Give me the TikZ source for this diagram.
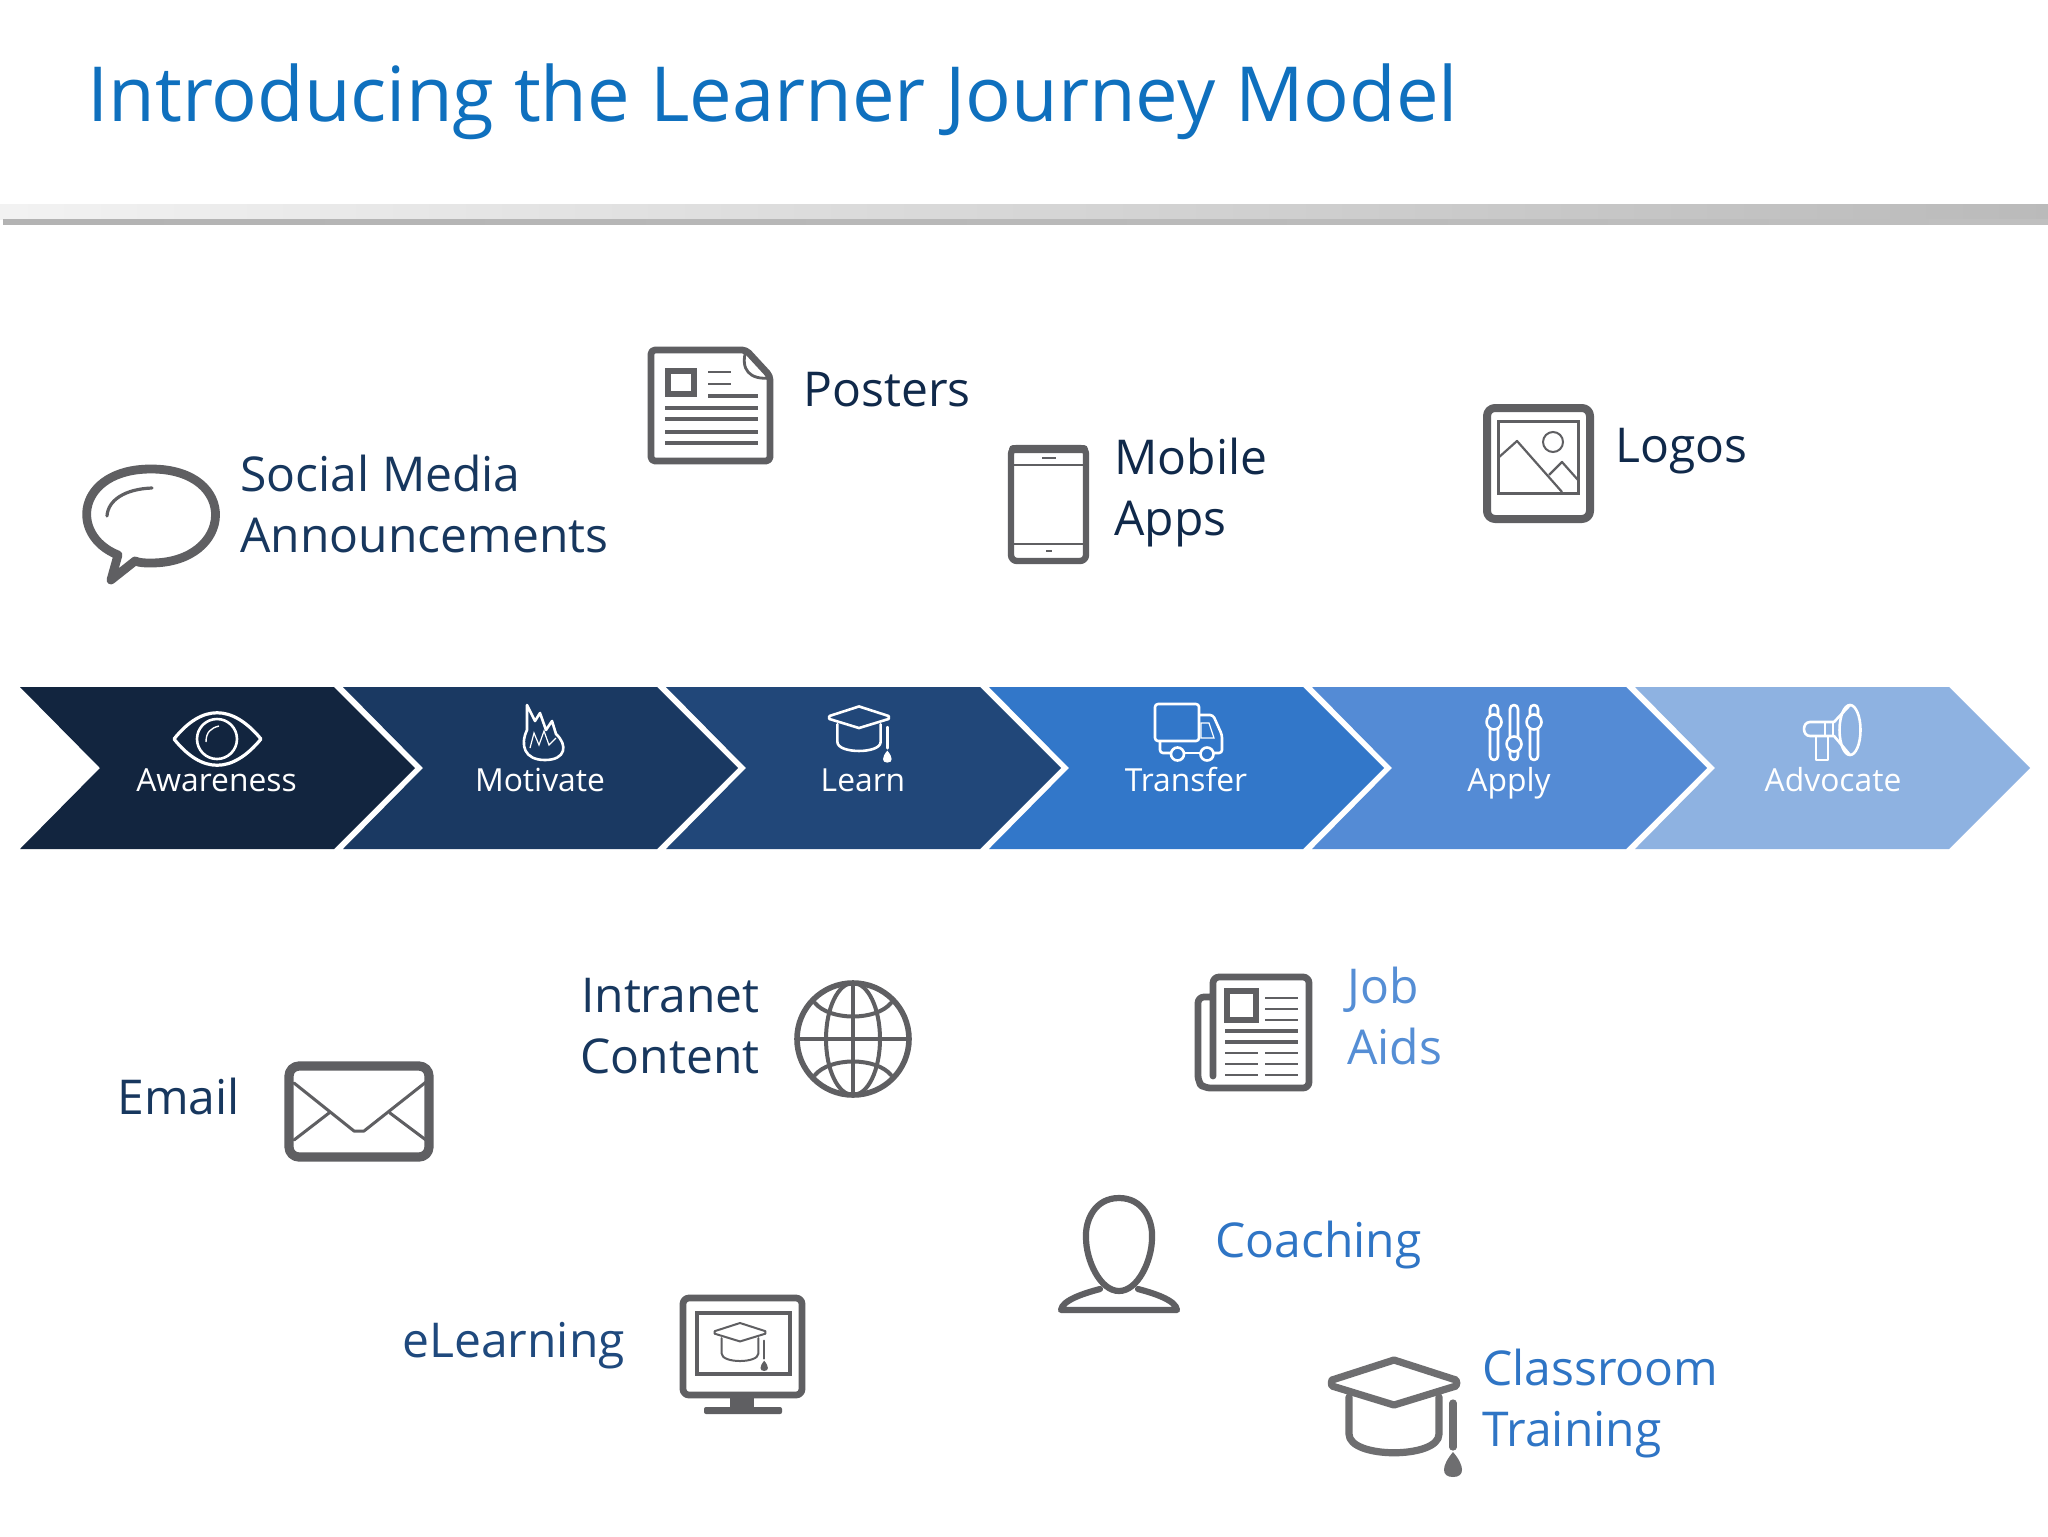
\documentclass[tikz,border=0pt]{standalone}
\usepackage{fontspec}
\setmainfont{Open Sans}
\usetikzlibrary{positioning}
\definecolor{titleblue}{HTML}{0F70BE}
\definecolor{inkdark}{HTML}{10294A}
\definecolor{inknavy}{HTML}{17375E}
\definecolor{inkmid}{HTML}{1F497D}
\definecolor{inkjob}{HTML}{558ED5}
\definecolor{inkcoach}{HTML}{2F75C5}
\definecolor{icongray}{HTML}{5F5F62}
\definecolor{capgray}{HTML}{6E6E70}
\definecolor{chevA}{HTML}{12253F}
\definecolor{chevB}{HTML}{1A3962}
\definecolor{chevC}{HTML}{214779}
\definecolor{chevD}{HTML}{3277C9}
\definecolor{chevE}{HTML}{548BD5}
\definecolor{chevF}{HTML}{8EB2E1}
\tikzset{
  bodytext/.style={font=\fontsize{24}{30.5}\selectfont,inner sep=0pt,align=left},
  steplabel/.style={font=\fontsize{15.9}{20}\selectfont,text=white,inner sep=0pt,anchor=base},
  iconline/.style={draw=icongray,line width=#1,line join=round,line cap=round},
  stepicon/.style={draw=white,line width=1.3pt,line join=round}
}
% cap: x, y, scale, colour, line width
\newcommand\capicon[5]{
\begin{scope}[shift={(#1,#2)},scale=#3,draw=#4,line width=#5,line join=round,line cap=round]
\draw (-62,-2) -- (0,-22) -- (62,-2) to[bend left=25] (62,4) -- (0,23) -- (-62,4) to[bend left=25] (-62,-2);
\draw (-45,15) -- (-45,52) .. controls (-45,77) and (45,77) .. (45,52) -- (45,15);
\draw (59,21) -- (59,65);
\fill[#4] (59,70) .. controls (47,84) and (47,95) .. (59,95) .. controls (71,95) and (71,84) .. (59,70) -- cycle;
\end{scope}
}
\begin{document}
\begin{tikzpicture}[x=0.5pt,y=-0.5pt]
\useasboundingbox (0,0) rectangle (2048,1536);
\fill[white] (0,0) rectangle (2048,1536);
% title and rule
\node[font=\fontsize{38}{46}\selectfont,text=titleblue,inner sep=0pt,anchor=base west] (title) at (87,121) {Introducing the Learner Journey Model};
\shade[left color=black!5,right color=black!27] (0,204) rectangle (2048,219);
\shade[left color=black!30,right color=black!25] (3,219) rectangle (2048,224);
% chevrons
\foreach \i/\c/\lab/\cx in {0/chevA/Awareness/216.5,1/chevB/Motivate/540,2/chevC/Learn/863,3/chevD/Transfer/1186,4/chevE/Apply/1509,5/chevF/Advocate/1833}{
\fill[\c] ({20+323*\i},687) -- ({334+323*\i},687) -- ({415+323*\i},768) -- ({334+323*\i},849) -- ({20+323*\i},849) -- ({100+323*\i},768) -- cycle;
\node[steplabel] (chev\i) at (\cx,791) {\lab};
}
% eye
\draw[stepicon,line width=1.6pt] (174,739) .. controls (202,704) and (232,704) .. (261,739) .. controls (232,774) and (202,774) .. (174,739) -- cycle;
\draw[stepicon] (217,739) circle (20);
\draw[white,line width=0.7pt] (206,742) .. controls (206,732) and (211,728) .. (219,726);
% flame
\draw[stepicon] (527,705) -- (535,721) -- (540,713) -- (546,730) -- (552,721) -- (556,734) .. controls (568,745) and (566,760) .. (545,760) .. controls (524,760) and (520,745) .. (527,730) -- cycle;
\draw[white,line width=0.6pt] (530,748) -- (534,733) -- (539,745) -- (544,731) -- (549,745) -- (556,738);
% cap
\capicon{859}{717}{0.48}{white}{1.3pt}
% truck
\draw[stepicon,rounded corners=1.5pt] (1155,704) rectangle (1199,741);
\draw[stepicon,rounded corners=1.5pt] (1160,741) -- (1160,753) -- (1171,753);
\draw[stepicon,rounded corners=1.5pt] (1199,715) -- (1213,715) -- (1222,735) -- (1222,753) -- (1213,753);
\draw[stepicon] (1184,753) -- (1201,753);
\draw[white,line width=0.6pt] (1201,723) -- (1209,723) -- (1214,738) -- (1201,738) -- cycle;
\draw[stepicon] (1177.5,754) circle (6.5);
\draw[stepicon] (1207,754) circle (6.5);
% sliders
\foreach \sx/\sy in {1494/722,1514/744,1534/722}{
\draw[stepicon,rounded corners=2pt] (\sx-4,705) rectangle (\sx+4,760);
\draw[stepicon,fill=chevE] (\sx,\sy) circle (7.5);
}
% megaphone
\draw[stepicon] (1850,730) ellipse (10.5 and 25);
\draw[stepicon] (1850,705) -- (1834,722) -- (1810,722) .. controls (1802,722) and (1802,736) .. (1810,736) -- (1834,736) -- (1850,755);
\draw[stepicon] (1816,736) -- (1816,760) -- (1828,760) -- (1828,736);
\draw[white,line width=0.6pt] (1825,722) -- (1825,736) (1833,722) -- (1833,736);
% speech bubble
\draw[iconline=4.4pt] (118,555) .. controls (68,535) and (77,469) .. (151,469) .. controls (240,469) and (234,563) .. (151,563) .. controls (145,563) and (140,563) .. (135,561) -- (111,580) -- (118,555);
\draw[iconline=1.6pt] (107,516) .. controls (108,500) and (125,489) .. (152,488);
\node[bodytext,text=inknavy,anchor=west] (social) at (240,504) {Social Media\\Announcements};
% poster
\draw[iconline=3.4pt,rounded corners=2pt] (651,350) -- (746,350) -- (770,376) -- (770,461) -- (651,461) -- cycle;
\draw[icongray,line width=1.4pt,line join=round] (746,350) .. controls (740,370) and (750,380) .. (770,378);
\draw[icongray,line width=2.6pt] (668,371) rectangle (694,394);
\draw[icongray,line width=1pt] (708,372) -- (731,372) (708,384) -- (731,384);
\foreach \ly in {396,408,419,432,443}{
\draw[icongray,line width=1.6pt] (\ifnum\ly=396 708\else 665\fi,\ly) -- (758,\ly);
}
\node[bodytext,text=inkdark,anchor=base west] (posters) at (803,406) {Posters};
% phone
\draw[iconline=3.2pt,rounded corners=3pt] (1011,448) rectangle (1086,561);
\fill[icongray,rounded corners=2pt] (1009,445) rectangle (1088,453);
\draw[icongray,line width=1.1pt] (1011,465) -- (1086,465) (1011,544) -- (1086,544);
\draw[icongray,line width=1pt] (1042,458) -- (1056,458);
\draw[icongray,line width=1.4pt] (1046,551) -- (1052,551);
\node[bodytext,text=inkdark,anchor=west] (mobile) at (1114,492.5) {Mobile\\Apps};
% picture frame
\draw[iconline=4pt,rounded corners=4pt] (1487,408) rectangle (1590,519);
\draw[icongray,line width=1.5pt] (1498,421) rectangle (1578,493);
\draw[icongray,line width=1pt] (1553,442) ellipse (10 and 10);
\draw[icongray,line width=1.1pt,line join=round] (1498,458) -- (1517,441) -- (1562,492);
\draw[icongray,line width=1.1pt,line join=round] (1549,475) -- (1562,462) -- (1578,480);
\node[bodytext,text=inkdark,anchor=base west] (logos) at (1615,462) {Logos};
% envelope
\node[bodytext,text=inknavy,anchor=base west] (email) at (117,1114) {Email};
\draw[iconline=4.6pt,rounded corners=5pt] (289,1066) rectangle (429,1157);
\draw[iconline=1.5pt] (294,1083) -- (354,1131) -- (364,1131) -- (426,1082);
\draw[iconline=1.5pt] (294,1140) -- (329,1113) (390,1113) -- (426,1140);
% globe
\node[bodytext,text=inknavy,align=right,anchor=east] (intranet) at (760,1026) {Intranet\\Content};
\draw[iconline=2.8pt] (853,1039) ellipse (56 and 56);
\draw[iconline=2pt] (853,1039) ellipse (27 and 56);
\draw[iconline=2pt] (853,983) -- (853,1095) (797,1039) -- (909,1039);
\draw[iconline=2pt] (815,1003) .. controls (830,1021) and (876,1021) .. (891,1003);
\draw[iconline=2pt] (815,1075) .. controls (830,1057) and (876,1057) .. (891,1075);
% monitor
\node[bodytext,text=inkmid,anchor=base west] (elearning) at (402,1357.5) {eLearning};
\draw[iconline=3.4pt,rounded corners=3pt] (683,1298) rectangle (802,1395);
\draw[icongray,line width=1.8pt] (697,1313) rectangle (790,1374);
\fill[icongray] (730,1395) rectangle (754,1408);
\fill[icongray,rounded corners=1pt] (704,1407) rectangle (782,1414);
\capicon{740}{1332}{0.41}{icongray}{1pt}
% newspaper
\draw[iconline=3.4pt,rounded corners=3pt] (1213,1076) -- (1213,977) -- (1309,977) -- (1309,1088) -- (1204,1088) -- (1198,1082) -- (1198,997) -- (1213,997);
\draw[icongray,line width=2.8pt] (1227,991) rectangle (1256,1020);
\draw[icongray,line width=1.1pt] (1265,998) -- (1298,998) (1265,1009) -- (1298,1009) (1265,1020) -- (1298,1020);
\draw[icongray,line width=2pt] (1225,1031) -- (1298,1031) (1225,1042) -- (1298,1042);
\foreach \ly in {1053,1064,1075}{
\draw[icongray,line width=1.3pt] (1225,\ly) -- (1258,\ly) (1265,\ly) -- (1298,\ly);
}
\node[bodytext,text=inkjob,anchor=west] (jobaids) at (1347,1016) {Job\\Aids};
% person
\draw[iconline=3.1pt] (1119,1198) .. controls (1095,1198) and (1085,1220) .. (1086,1238) .. controls (1086,1260) and (1100,1291) .. (1119,1291) .. controls (1138,1291) and (1152,1260) .. (1152,1238) .. controls (1153,1220) and (1143,1198) .. (1119,1198) -- cycle;
\draw[iconline=3.1pt] (1100,1289) .. controls (1085,1293) and (1062,1300) .. (1061,1310) -- (1177,1310) .. controls (1176,1300) and (1153,1293) .. (1138,1289);
\node[bodytext,text=inkcoach,anchor=base west] (coaching) at (1215,1257) {Coaching};
% large cap
\capicon{1394}{1382}{1}{capgray}{3.6pt}
\node[bodytext,text=inkcoach,anchor=west] (classroom) at (1482,1404) {Classroom\\Training};
\end{tikzpicture}
\end{document}
